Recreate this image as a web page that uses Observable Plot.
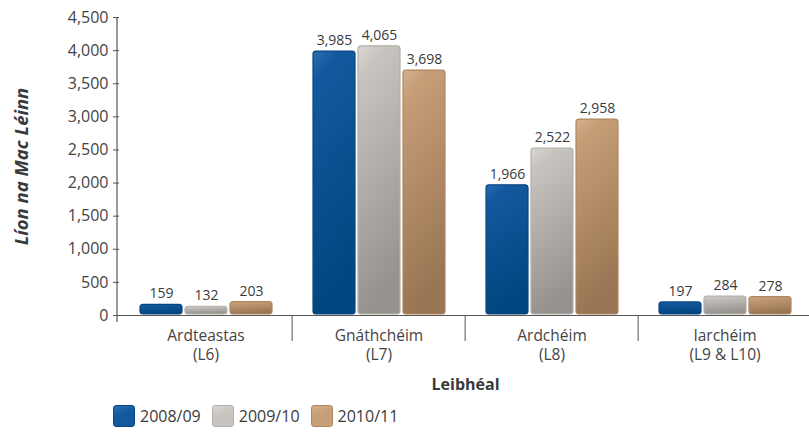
<!DOCTYPE html>
<html><head><meta charset="utf-8">
<script src="https://cdn.jsdelivr.net/npm/d3@7"></script>
<script src="https://cdn.jsdelivr.net/npm/@observablehq/plot@0.6"></script>
<style>
body{margin:0;background:#fff;font-family:"Open Sans",sans-serif;}
#chart svg{overflow:visible;display:block}
g[aria-label="y-axis label"]{font-weight:bold;font-style:italic;font-size:18.5px;fill:#3a3a3a}
g[aria-label="fx-axis label"]{font-weight:bold;font-size:16px;fill:#3a3a3a}
.legend{display:flex;align-items:center;margin-left:113px;margin-top:8px;font-size:16px;color:#3a3a3a;font-family:"Open Sans",sans-serif}
.legend .item{display:flex;align-items:center;margin-right:11px}
.legend .sw{display:inline-block;width:22px;height:22px;border-radius:3px;margin-right:5px;box-sizing:border-box;border:1px solid}
</style></head><body><div id="chart"></div>
<script>
const groups = ["Ardteastas\n(L6)", "Gnáthchéim\n(L7)", "Ardchéim\n(L8)", "Iarchéim\n(L9 & L10)"];
const series = ["2008/09", "2009/10", "2010/11"];
const values0809 = [159, 3985, 1966, 197];
const values0910 = [132, 4065, 2522, 284];
const values1011 = [203, 3698, 2958, 278];
const yTicks = [0, 500, 1000, 1500, 2000, 2500, 3000, 3500, 4000, 4500];
const yTitle = "Líon na Mac Léinn";
const xTitle = "Leibhéal";
const gradStops = [
  ["#2e6eb1", "#13599f", "#00467e"],
  ["#dcd9d5", "#c8c4bf", "#96928d"],
  ["#d6b18d", "#c69e78", "#997553"]
];
const borders = ["#0a4580", "#b3afaa", "#b0865f"];

const allValues = [values0809, values0910, values1011];
const data = [];
series.forEach((s, i) => groups.forEach((g, j) => data.push({group: g, series: s, si: i, value: allValues[i][j]})));

const W = 809, H = 397, mTop = 17, mBottom = 82, mLeft = 117, fxRight = 812;
const step = (fxRight - mLeft) / groups.length;
const fmt = d3.format(",");

const svg = Plot.plot({
  width: W, height: H,
  marginTop: mTop, marginBottom: mBottom, marginLeft: mLeft, marginRight: 0,
  style: {fontFamily: "Open Sans, sans-serif", fontSize: "15px", color: "#444", background: "#fff"},
  fx: {domain: groups, range: [mLeft, fxRight], padding: 0},
  x: {domain: series, paddingInner: 0.07, paddingOuter: 0.45, axis: null},
  y: {domain: [0, 4500]},
  color: {type: "identity"},
  marks: [
    Plot.barY(data, {fx: "group", x: "series", y: "value", fill: d => `url(#grad${d.si})`, stroke: d => borders[d.si], strokeWidth: 1.2, rx: 3, insetBottom: 1}),
    Plot.text(data, {fx: "group", x: "series", y: "value", text: d => fmt(d.value), dy: -11, fontSize: 14, fill: "#3a3a3a"}),
    Plot.ruleY([0], {stroke: "#555", strokeWidth: 1.2}),
    Plot.axisY({ticks: yTicks, tickFormat: d => fmt(d), tickSize: 6, tickPadding: 5, fontSize: 16, label: yTitle, labelArrow: false, labelAnchor: "center", labelOffset: 105, stroke: "#555"}),
    Plot.axisFx({anchor: "bottom", ticks: groups.slice(1), tickSize: 26, text: null, label: null, dx: -step / 2, stroke: "#555"}),
    Plot.axisFx({anchor: "bottom", tickSize: 0, tickPadding: 12, fontSize: 15.5, lineHeight: 1.22, label: xTitle, labelAnchor: "center", labelOffset: 74})
  ]
});

const defs = d3.select(svg).insert("defs", ":first-child");
gradStops.forEach((st, i) => {
  const lg = defs.append("linearGradient").attr("id", `grad${i}`).attr("x1", 0).attr("y1", 0).attr("x2", 0.2).attr("y2", 1);
  lg.append("stop").attr("offset", 0).attr("stop-color", st[0]);
  lg.append("stop").attr("offset", 0.12).attr("stop-color", st[1]);
  lg.append("stop").attr("offset", 1).attr("stop-color", st[2]);
});

// y-axis line, positioned from the plot's own scales
const yS = svg.scale("y"), fxS = svg.scale("fx");
const yPx = Plot.scale({y: yS});
d3.select(svg).append("line")
  .attr("x1", fxS.range[0]).attr("x2", fxS.range[0])
  .attr("y1", yPx.apply(yTicks[yTicks.length - 1])).attr("y2", yPx.apply(0) + 7)
  .attr("stroke", "#555").attr("stroke-width", 1.2);

document.getElementById("chart").appendChild(svg);

const legend = d3.select("body").append("div").attr("class", "legend");
series.forEach((s, i) => {
  const it = legend.append("div").attr("class", "item");
  it.append("span").attr("class", "sw")
    .style("background", `linear-gradient(160deg, ${gradStops[i][0]}, ${gradStops[i][1]} 40%, ${gradStops[i][1]})`)
    .style("border-color", borders[i]);
  it.append("span").text(s);
});
</script></body></html>
